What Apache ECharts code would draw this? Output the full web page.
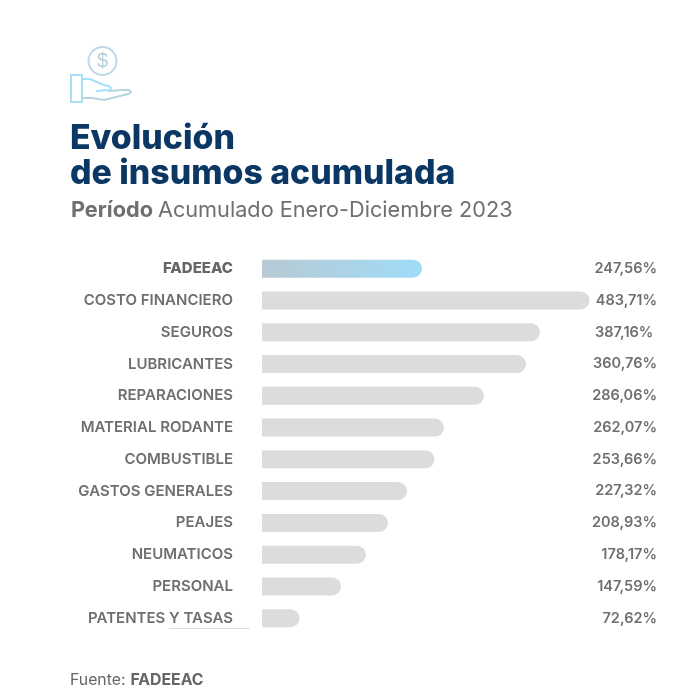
<!DOCTYPE html>
<html>
<head>
<meta charset="utf-8">
<style>html,body{margin:0;padding:0;background:#fff}#c{width:700px;height:700px}</style>
<script src="https://cdn.jsdelivr.net/npm/echarts@6/dist/echarts.min.js"></script>
</head>
<body>
<div id="c"></div>
<script>
const categories = ['FADEEAC','COSTO FINANCIERO','SEGUROS','LUBRICANTES','REPARACIONES','MATERIAL RODANTE','COMBUSTIBLE','GASTOS GENERALES','PEAJES','NEUMATICOS','PERSONAL','PATENTES Y TASAS'];
// Printed labels, as shown in the picture
const valueLabels = ['247,56%','483,71%','387,16% ','360,76%','286,06%','262,07%','253,66%','227,32%','208,93%','178,17%','147,59%','72,62%'];
// Bar lengths as drawn in the picture (the drawn bars are not strictly proportional to the labels)
const barLengths = [236.3,483.71,410.6,390,327.9,268.8,254.8,214.2,186.1,153.6,116.7,55.4];

const FONT = 'Inter';
const chart = echarts.init(document.getElementById('c'), null, {renderer:'canvas'});
chart.setOption({
  animation:false,
  backgroundColor:'#fff',
  title:[
    {left:70,top:120,padding:0,text:'Evolución',textStyle:{fontFamily:FONT,fontSize:33.8,fontWeight:800,color:'#0b3764',lineHeight:38}},
    {left:70,top:155,padding:0,text:'de insumos acumulada',textStyle:{fontFamily:FONT,fontSize:33.8,fontWeight:800,color:'#0b3764',lineHeight:38}},
    {left:71,top:199,padding:0,text:'{b|Período} {r|Acumulado Enero-Diciembre 2023}',textStyle:{rich:{
      b:{fontFamily:FONT,fontSize:21.7,fontWeight:700,color:'#6f6f6f'},
      r:{fontFamily:FONT,fontSize:21.7,fontWeight:400,color:'#6f6f6f'}}}},
    {left:70,top:671,padding:0,text:'{r|Fuente:} {b|FADEEAC}',textStyle:{rich:{
      b:{fontFamily:FONT,fontSize:15.8,fontWeight:700,color:'#666'},
      r:{fontFamily:FONT,fontSize:15.8,fontWeight:400,color:'#666'}}}}
  ],
  grid:{left:262,width:338.5,top:252.8,height:381.3},
  xAxis:{type:'value',min:0,max:500,show:false},
  yAxis:[
    {type:'category',inverse:true,data:categories,position:'left',
     axisLine:{show:false},axisTick:{show:false},
     axisLabel:{margin:29,fontFamily:FONT,fontSize:15,fontWeight:600,color:'#6f6f6f',
       formatter:(v)=>v==='FADEEAC'?'{b|'+v+'}':v,
       rich:{b:{fontFamily:FONT,fontSize:15,fontWeight:800,color:'#666'}}}},
    {type:'category',inverse:true,data:valueLabels,position:'right',
     axisLine:{show:false},axisTick:{show:false},
     axisLabel:{margin:56.5,align:'right',fontFamily:FONT,fontSize:14.5,fontWeight:600,color:'#6f6f6f'}}
  ],
  series:[{
    type:'bar',barWidth:18,yAxisIndex:0,
    data:barLengths.map((v,i)=>i===0?{value:v,itemStyle:{color:new echarts.graphic.LinearGradient(0,0,1,0,[{offset:0,color:'#b8c9d3'},{offset:1,color:'#9fdcf8'}])}}:v),
    itemStyle:{color:'#dcdcdc',borderRadius:[0,9,9,0]}
  }],
  graphic:[
    {type:'circle',shape:{cx:102.5,cy:61,r:14},style:{fill:'none',stroke:'#bcd9e6',lineWidth:2}},
    {type:'text',x:102.5,y:61,style:{text:'$',fontFamily:'Liberation Sans',fontSize:20,fill:'#b5cfdc',textAlign:'center',textVerticalAlign:'middle'}},
    {type:'rect',shape:{x:71,y:75,width:11,height:27},style:{fill:'none',stroke:'#a6e0f7',lineWidth:2}},
    {type:'polyline',shape:{points:[[82,79],[90,79],[105,85.5],[109,86],[111,88],[110,90],[96,91]]},style:{fill:'none',stroke:'#a6e0f7',lineWidth:2}},
    {type:'polyline',shape:{points:[[82,98],[92,98],[104,100],[128,94],[131,92],[129,90],[122,90],[108,91]]},style:{fill:'none',stroke:'#b9d4df',lineWidth:2}},
    {type:'line',shape:{x1:169,y1:628.5,x2:250,y2:628.5},style:{stroke:'#dddddd',lineWidth:1}}
  ]
});
</script>
</body>
</html>
